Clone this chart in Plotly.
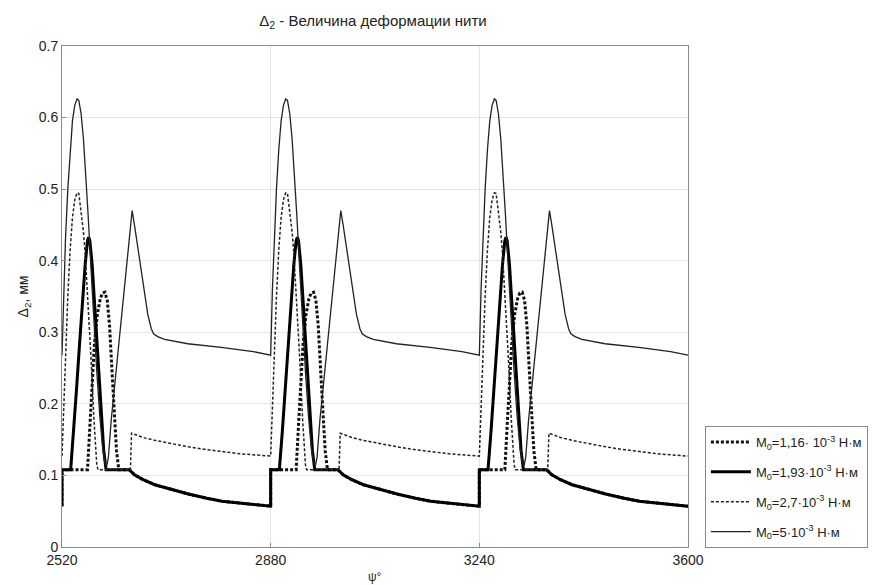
import plotly.graph_objects as go

# period starts (deg)
period_starts = [2520, 2880, 3240]

# one period of each curve (offset u in degrees within 360-deg cycle, value in mm)
u_m116 = [0, 0, 44, 48, 52, 56, 61, 66, 70, 74, 78, 82, 86, 90, 94, 98, 116, 125, 140, 160, 190, 218, 250, 276, 310, 340, 360]
v_m116 = [0.057, 0.108, 0.108, 0.17, 0.235, 0.285, 0.325, 0.347, 0.355, 0.356, 0.345, 0.31, 0.25, 0.19, 0.135, 0.108, 0.108,
          0.101, 0.094, 0.087, 0.080, 0.074, 0.068, 0.064, 0.061, 0.058, 0.057]

u_m193 = [0, 0, 15, 20, 25, 30, 35, 40, 44, 46, 48, 52, 57, 62, 67, 72, 76, 116, 125, 140, 160, 190, 218, 250, 276, 310, 340, 360]
v_m193 = [0.057, 0.108, 0.108, 0.16, 0.22, 0.28, 0.34, 0.395, 0.428, 0.433, 0.428, 0.395, 0.33, 0.26, 0.19, 0.135, 0.108,
          0.108, 0.101, 0.094, 0.087, 0.080, 0.074, 0.068, 0.064, 0.061, 0.058, 0.057]

u_m27 = [0, 3, 6, 10, 14, 18, 22, 26, 29, 33, 37, 40, 45, 50, 55, 60, 62, 118, 120, 130, 140, 160, 190, 218, 250, 276, 310, 360]
v_m27 = [0.127, 0.2, 0.27, 0.35, 0.415, 0.46, 0.485, 0.495, 0.494, 0.47, 0.44, 0.41, 0.345, 0.265, 0.18, 0.115, 0.108,
         0.108, 0.159, 0.156, 0.153, 0.149, 0.144, 0.140, 0.136, 0.133, 0.130, 0.127]

u_m5 = [0, 3, 6, 10, 14, 18, 22, 26, 29, 33, 37, 41, 45, 50, 55, 60, 65, 70, 74, 77, 80, 85, 95, 105, 113, 118, 121,
        125, 132, 140, 148, 154, 158, 165, 177, 217, 275, 330, 360]
v_m5 = [0.268, 0.36, 0.43, 0.50, 0.555, 0.595, 0.617, 0.626, 0.624, 0.605, 0.57, 0.52, 0.465, 0.39, 0.315, 0.245, 0.185,
        0.14, 0.118, 0.113, 0.125, 0.178, 0.259, 0.34, 0.405, 0.445, 0.47, 0.45, 0.41, 0.365, 0.325, 0.305, 0.298,
        0.294, 0.290, 0.284, 0.279, 0.273, 0.268]

x_ticks = [2520, 2880, 3240, 3600]
y_ticks = [0, 0.1, 0.2, 0.3, 0.4, 0.5, 0.6, 0.7]

names = ["M<sub>0</sub>=1,16· 10<sup>-3</sup> Н·м",
         "M<sub>0</sub>=1,93·10<sup>-3</sup> Н·м",
         "M<sub>0</sub>=2,7·10<sup>-3</sup> Н·м",
         "M<sub>0</sub>=5·10<sup>-3</sup> Н·м"]


def tile(u, v):
    xs, ys = [], []
    for s in period_starts:
        xs += [s + a for a in u]
        ys += list(v)
    return xs, ys


styles = [
    dict(width=3, dash="3px,2px", color="#111"),
    dict(width=3, dash="solid", color="#000"),
    dict(width=1.5, dash="3px,2px", color="#222"),
    dict(width=1.3, dash="solid", color="#222"),
]
data = [(u_m116, v_m116), (u_m193, v_m193), (u_m27, v_m27), (u_m5, v_m5)]

fig = go.Figure()
for i, ((u, v), nm, st) in enumerate(zip(data, names, styles)):
    xs, ys = tile(u, v)
    fig.add_trace(go.Scatter(x=xs, y=ys, mode="lines", name=nm, line=st, legendgroup="g%d" % i))

axis_common = dict(showgrid=True, gridcolor="#e4e4e4", gridwidth=1, showline=True, linecolor="#8a8a8a",
                   linewidth=1, mirror=True, ticks="inside", ticklen=4, tickcolor="#8a8a8a",
                   zeroline=False, automargin=False,
                   tickfont=dict(family="Liberation Sans, Arial", size=14, color="#222"))

# the page body adds an 8px offset; the figure is sized so that it fits the window
W, H = 873, 577
fig.update_layout(
    template="none",
    width=W, height=H,
    margin=dict(l=54, r=W - 680, t=38, b=H - 539),
    paper_bgcolor="white", plot_bgcolor="white",
    font=dict(family="Liberation Sans, Arial", size=13, color="#222"),
    title=dict(text="Δ<sub>2</sub> - Величина деформации нити", xref="container", x=365 / W, xanchor="center",
               yref="container", y=1 - 13 / H, yanchor="middle", font=dict(size=15, color="#222")),
    xaxis=dict(range=[2520, 3600], tickvals=x_ticks, ticktext=[str(t) for t in x_ticks], **axis_common),
    yaxis=dict(range=[0, 0.7], tickvals=y_ticks, ticktext=[("%g" % t) for t in y_ticks],
               ticklabelstandoff=0,
               title=dict(text="Δ<sub>2</sub>, мм", font=dict(size=14), standoff=6), **axis_common),
    legend=dict(x=1.027, xanchor="left", y=-0.002, yanchor="bottom", bgcolor="white",
                bordercolor="#8a8a8a", borderwidth=1, font=dict(size=13, color="#222"),
                tracegroupgap=10, itemwidth=40),
    annotations=[dict(text="ψ°", xref="paper", x=0.5, yref="paper", y=0, yanchor="top", yshift=-21,
                      showarrow=False, font=dict(size=12, color="#222"))],
    showlegend=True,
)

fig.write_html("out.html")
